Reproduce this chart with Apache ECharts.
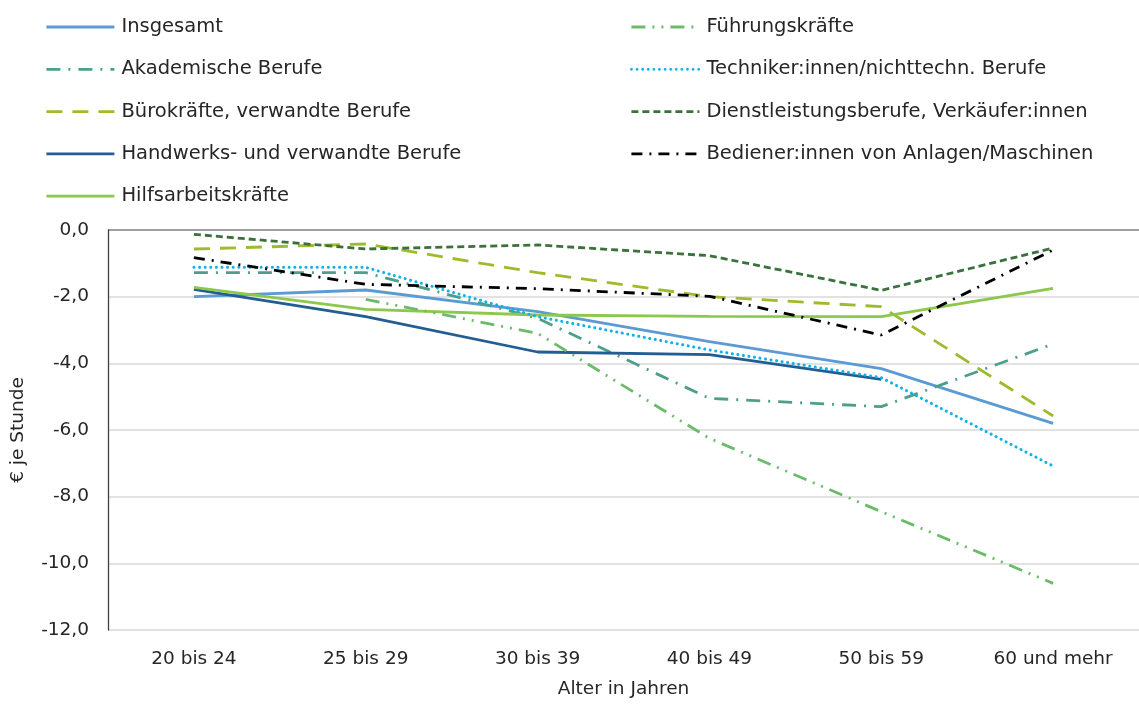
<!DOCTYPE html>
<html>
<head>
<meta charset="utf-8">
<script src="https://cdn.jsdelivr.net/npm/echarts@6/dist/echarts.min.js"></script>
<style>
  html, body { margin: 0; padding: 0; background: #fff; }
  #chart { width: 1139px; height: 704px; }
</style>
</head>
<body>
<div id="chart"></div>
<script>
const categories = ['20 bis 24', '25 bis 29', '30 bis 39', '40 bis 49', '50 bis 59', '60 und mehr']

const insgesamt = [-2.0, -1.8, -2.45, -3.35, -4.16, -5.8]
const akademische = [-1.28, -1.28, -2.65, -5.05, -5.3, -3.42]
const buerokraefte = [-0.57, -0.42, -1.28, -2.0, -2.3, -5.58]
const handwerks = [-1.78, -2.6, -3.66, -3.74, -4.48, null]
const hilfsarbeit = [-1.72, -2.38, -2.55, -2.59, -2.6, -1.75]
const fuehrung = [null, -2.08, -3.1, -6.25, -8.45, -10.6]
const techniker = [-1.12, -1.12, -2.6, -3.6, -4.43, -7.08]
const dienstleistung = [-0.13, -0.57, -0.45, -0.77, -1.81, -0.54]
const bediener = [-0.83, -1.63, -1.76, -1.99, -3.15, -0.6]

const font = 'DejaVu Sans'
const textColor = '#262626'

function line(name, data, color, type, extra) {
  return {
    name,
    type: 'line',
    data,
    symbol: 'none',
    connectNulls: false,
    lineStyle: Object.assign({ color, width: 2.8, type }, extra || {}),
    itemStyle: { color },
  }
}

const chart = echarts.init(document.getElementById('chart'))

const legendBase = {
  orient: 'vertical',
  top: 17,
  padding: 0,
  itemWidth: 68,
  itemHeight: 14,
  itemGap: 22.3,
  itemStyle: { opacity: 0 },
  lineStyle: { width: 2.8 },
  textStyle: { fontFamily: font, fontSize: 19.5, color: textColor, padding: [0, 0, 0, 2] },
}

chart.setOption({
  animation: false,
  backgroundColor: '#fff',
  legend: [
    Object.assign({}, legendBase, {
      left: 45,
      data: ['Insgesamt', 'Akademische Berufe', 'Bürokräfte, verwandte Berufe', 'Handwerks- und verwandte Berufe', 'Hilfsarbeitskräfte'],
    }),
    Object.assign({}, legendBase, {
      left: 630,
      data: ['Führungskräfte', 'Techniker:innen/nichttechn. Berufe', 'Dienstleistungsberufe, Verkäufer:innen', 'Bediener:innen von Anlagen/Maschinen'],
    }),
  ],
  grid: { left: 108, right: -15.5, top: 230, bottom: 63, containLabel: false },
  xAxis: {
    type: 'category',
    data: categories,
    boundaryGap: true,
    axisLine: { show: false },
    axisTick: { show: false },
    axisLabel: { fontFamily: font, fontSize: 18.5, color: textColor, margin: 20 },
    name: 'Alter in Jahren',
    nameLocation: 'middle',
    nameGap: 50,
    nameTextStyle: { fontFamily: font, fontSize: 18.5, color: textColor },
  },
  yAxis: {
    type: 'value',
    min: -12,
    max: 0,
    interval: 2,
    axisLine: { show: true, lineStyle: { color: '#404040', width: 1.3 } },
    axisTick: { show: false },
    axisLabel: {
      fontFamily: font, fontSize: 18.5, color: textColor, margin: 19,
      formatter: (v) => v.toFixed(1).replace('.', ','),
    },
    splitLine: {
      show: true,
      lineStyle: {
        color: ['#d9d9d9', '#d9d9d9', '#d9d9d9', '#d9d9d9', '#d9d9d9', '#d9d9d9', '#7f7f7f'],
        width: 1.5,
      },
    },
    name: '€ je Stunde',
    nameLocation: 'middle',
    nameGap: 80,
    nameTextStyle: { fontFamily: font, fontSize: 18.5, color: textColor },
  },
  series: [
    line('Insgesamt', insgesamt, '#5b9bd5', 'solid'),
    line('Akademische Berufe', akademische, '#4e9e8c', [14, 8, 2, 8]),
    line('Bürokräfte, verwandte Berufe', buerokraefte, '#9dbb2b', [16, 10]),
    line('Handwerks- und verwandte Berufe', handwerks, '#245d91', 'solid'),
    line('Hilfsarbeitskräfte', hilfsarbeit, '#8cc84b', 'solid'),
    line('Führungskräfte', fuehrung, '#6cbb6a', [14, 7, 2, 7, 2, 7]),
    line('Techniker:innen/nichttechn. Berufe', techniker, '#10b0ec', [0.1, 5.5], { cap: 'round', width: 3 }),
    line('Dienstleistungsberufe, Verkäufer:innen', dienstleistung, '#3a723a', [7, 4]),
    line('Bediener:innen von Anlagen/Maschinen', bediener, '#000000', [11, 7, 2, 7]),
  ],
})
</script>
</body>
</html>
